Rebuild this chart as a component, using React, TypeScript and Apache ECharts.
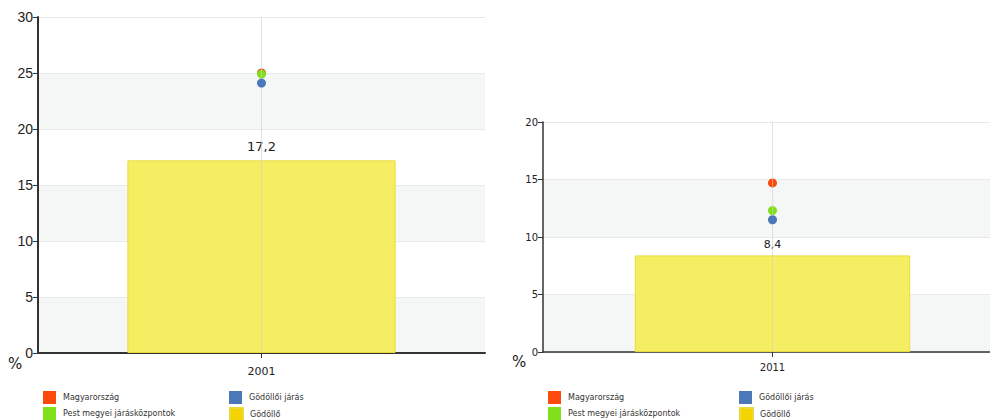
import React, { useEffect, useRef } from "react";
import * as echarts from "echarts";

const years1 = ["2001"];
const years2 = ["2011"];
const seriesNames = ["Magyarország", "Gödöllői járás", "Pest megyei járásközpontok", "Gödöllő"];
const colors = ["#fb4a0c", "#4a78b8", "#80e01c", "#f4d300"];
// 2001 values
const hu2001 = [25.0];
const jaras2001 = [24.1];
const pest2001 = [24.9];
const godollo2001 = [17.2];
// 2011 values
const hu2011 = [14.7];
const jaras2011 = [11.5];
const pest2011 = [12.3];
const godollo2011 = [8.4];

const yTicks1 = { min: 0, max: 30, interval: 5 };
const yTicks2 = { min: 0, max: 20, interval: 5 };

const fmt = (v: number) => String(v).replace(".", ",");

export default function App() {
  const ref = useRef<HTMLDivElement>(null);
  useEffect(() => {
    document.body.style.margin = "0";
    document.body.style.overflow = "hidden";
    const chart = echarts.init(ref.current!, undefined, { renderer: "svg" });
    const bandColors = ["#f5f7f7", "#ffffff"];
    const yAxisBase = (idx: number, t: any, big: boolean) => ({
      type: "value",
      gridIndex: idx,
      min: t.min,
      max: t.max,
      interval: t.interval,
      axisLine: { show: true, lineStyle: { color: "#333", width: big ? 2 : 1.5 } },
      axisTick: { show: true, length: 5, lineStyle: { color: "#333" } },
      axisLabel: big
        ? { fontFamily: "Liberation Sans Narrow, Liberation Sans, sans-serif", fontSize: 14, color: "#222", margin: 5 }
        : { fontFamily: "DejaVu Sans, Verdana, sans-serif", fontSize: 10, color: "#222", margin: 5 },
      splitLine: { show: true, lineStyle: { color: "#e8eaea", width: 1 } },
      splitArea: { show: true, areaStyle: { color: bandColors } },
    });
    const xAxisBase = (idx: number, data: string[], big: boolean) => ({
      type: "category",
      gridIndex: idx,
      data,
      axisLine: { show: true, lineStyle: { color: "#333", width: big ? 2 : 1.5 } },
      axisTick: { show: true, alignWithLabel: true, length: 5, lineStyle: { color: "#333" } },
      axisLabel: { fontFamily: "DejaVu Sans, Verdana, sans-serif", fontSize: big ? 11 : 10, color: "#222", margin: big ? 13 : 10 },
      splitLine: { show: false },
    });
    const centerLine = {
      silent: true,
      symbol: "none",
      label: { show: false },
      lineStyle: { color: "#cfcfcf", type: "solid", width: 1, opacity: 0.6 },
      data: [{ xAxis: 0 }],
    };
    const makeSeries = (idx: number, hu: number[], jaras: number[], pest: number[], god: number[], big: boolean) => [
      {
        name: seriesNames[3],
        type: "bar",
        xAxisIndex: idx,
        yAxisIndex: idx,
        data: god,
        barWidth: "60%",
        itemStyle: { color: "#f6ee62", borderColor: "#e8da3a", borderWidth: 1 },
        label: {
          show: true,
          position: "top",
          distance: big ? 7 : 5,
          formatter: (p: any) => fmt(p.value),
          fontFamily: "DejaVu Sans, Verdana, sans-serif",
          fontSize: big ? 13 : 11,
          color: "#222",
        },
        markLine: centerLine,
        z: 2,
      },
      { name: seriesNames[0], type: "scatter", xAxisIndex: idx, yAxisIndex: idx, data: hu, symbolSize: 9, itemStyle: { color: colors[0], opacity: 1 }, z: 3 },
      { name: seriesNames[2], type: "scatter", xAxisIndex: idx, yAxisIndex: idx, data: pest, symbolSize: 9, itemStyle: { color: colors[2], opacity: 1 }, z: 4 },
      { name: seriesNames[1], type: "scatter", xAxisIndex: idx, yAxisIndex: idx, data: jaras, symbolSize: 9, itemStyle: { color: colors[1], opacity: 1 }, z: 5 },
    ];
    const legendItem = (left: number, top: number, name: string) => ({
      left,
      top,
      orient: "horizontal",
      icon: "rect",
      itemWidth: 13,
      itemHeight: 13,
      itemGap: 4,
      padding: 0,
      selectedMode: false,
      textStyle: { fontFamily: "DejaVu Sans, Verdana, sans-serif", fontSize: 8, color: "#333", padding: [0, 0, 0, 2] },
      data: [{ name, itemStyle: { color: colors[seriesNames.indexOf(name)] } }],
    });
    chart.setOption({
      animation: false,
      backgroundColor: "#ffffff",
      grid: [
        { left: 38, top: 17, width: 447, height: 336 },
        { left: 543, top: 122, width: 459, height: 230 },
      ],
      xAxis: [xAxisBase(0, years1, true), xAxisBase(1, years2, false)],
      yAxis: [yAxisBase(0, yTicks1, true), yAxisBase(1, yTicks2, false)],
      legend: [
        legendItem(43, 391, seriesNames[0]),
        legendItem(43, 407, seriesNames[2]),
        legendItem(229, 391, seriesNames[1]),
        legendItem(229, 407, seriesNames[3]),
        legendItem(548, 391, seriesNames[0]),
        legendItem(548, 407, seriesNames[2]),
        legendItem(739, 391, seriesNames[1]),
        legendItem(739, 407, seriesNames[3]),
      ],
      graphic: [
        { type: "text", left: 8, top: 356, style: { text: "%", fontFamily: "DejaVu Sans, sans-serif", fontSize: 15, fill: "#222" } },
        { type: "text", left: 512, top: 354, style: { text: "%", fontFamily: "DejaVu Sans, sans-serif", fontSize: 15, fill: "#222" } },
      ],
      series: [
        ...makeSeries(0, hu2001, jaras2001, pest2001, godollo2001, true),
        ...makeSeries(1, hu2011, jaras2011, pest2011, godollo2011, false),
      ],
    });
    return () => chart.dispose();
  }, []);
  return <div ref={ref} style={{ width: 1010, height: 420 }} />;
}
